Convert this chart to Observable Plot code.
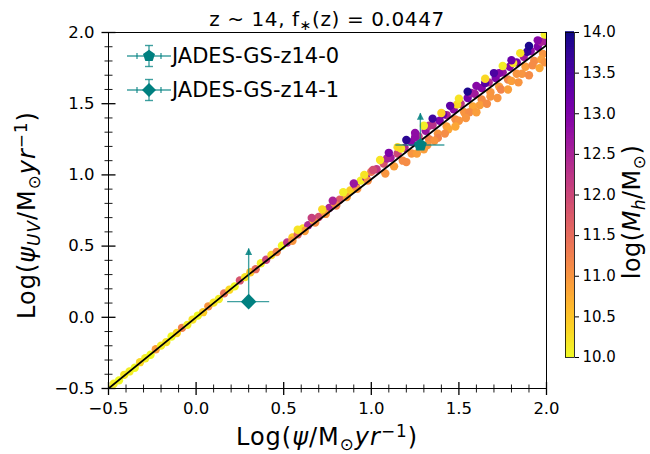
<!DOCTYPE html>
<html>
<head>
<meta charset="utf-8">
<script src="https://cdn.jsdelivr.net/npm/d3@7"></script>
<script src="https://cdn.jsdelivr.net/npm/@observablehq/plot@0.6"></script>
<style>
  body { margin: 0; background: #fff; }
  #wrap { position: relative; width: 650px; height: 454px; overflow: hidden; background: #fff;
          font-family: "DejaVu Sans", sans-serif; color: #000; }
  #wrap svg { position: absolute; left: 0; top: 0; }
  .lbl { position: absolute; white-space: nowrap; line-height: 1; }
  .sub { font-size: 70%; position: relative; top: 0.3em; }
  .sup { font-size: 70%; position: relative; top: -0.5em; }
  i { font-style: italic; }
</style>
</head>
<body>
<div id="wrap"></div>
<script>
// ---------- data ----------
// low-mass band (x = log SFR, y = log SFR_UV, colour = log Mh)
const bandX = [-0.50,-0.47,-0.44,-0.41,-0.38,-0.35,-0.32,-0.29,-0.26,-0.23,-0.20,-0.17,-0.14,-0.11,-0.08,-0.05,-0.02,0.01,0.04,0.07,0.10,0.13,0.16,0.19,0.22,0.25,0.28,0.31,0.34,0.37,0.40,0.43,0.46,0.49,0.52,0.55,0.58,0.61,0.64,0.67,0.70,0.73,0.76,0.79,0.82,0.85,0.88,0.91,0.94,0.97,1.00,
  0.55,0.62,0.68,0.74,0.80,0.86,0.92,0.98,
  0.58,0.66,0.72,0.78,0.84,0.90,0.96];
const bandY = [-0.505,-0.466,-0.443,-0.404,-0.380,-0.354,-0.315,-0.288,-0.263,-0.224,-0.199,-0.174,-0.135,-0.110,-0.074,-0.053,-0.016,0.012,0.036,0.077,0.103,0.128,0.168,0.194,0.217,0.259,0.282,0.316,0.338,0.380,0.404,0.438,0.459,0.502,0.525,0.560,0.582,0.624,0.646,0.682,0.704,0.746,0.768,0.804,0.826,0.868,0.890,0.926,0.960,0.982,1.022,
  0.538,0.606,0.666,0.726,0.785,0.844,0.902,0.960,
  0.615,0.698,0.758,0.818,0.878,0.940,1.000];
const bandMh = [10.0,10.1,10.0,10.2,10.1,10.0,10.3,10.1,10.0,10.9,10.1,10.2,10.0,10.3,11.2,10.1,10.2,10.0,10.4,11.0,10.2,10.1,11.4,10.3,10.0,11.8,10.2,10.5,11.5,10.1,12.0,10.3,11.2,10.0,12.2,10.4,11.6,10.2,12.4,10.1,11.9,10.3,12.5,10.2,11.7,12.6,10.4,12.3,10.1,12.8,11.4,
  11.0,10.9,11.1,11.0,11.2,10.9,11.0,11.1,
  10.2,12.1,10.3,12.5,10.1,12.7,10.2];

// upper branch at high SFR
const upperX = [1.03,1.07,1.11,1.15,1.19,1.23,1.27,1.31,1.35,1.39,1.43,1.47,1.51,1.55,1.59,1.63,1.67,1.71,1.75,1.79,1.83,1.87,1.91,1.95,1.99,
  1.01,1.09,1.17,1.25,1.33,1.41,1.49,1.57,1.65,1.73,1.81,1.89,1.97,
  1.05,1.10,1.15,1.20,1.25,1.30,1.35,1.40,1.45,1.50,1.55,1.60,1.65,1.70,1.75,1.80,1.85,1.90,1.95,1.99];
const upperY = [1.04,1.08,1.12,1.15,1.19,1.23,1.27,1.31,1.35,1.38,1.42,1.46,1.50,1.54,1.57,1.61,1.65,1.68,1.72,1.76,1.79,1.83,1.87,1.90,1.94,
  1.035,1.115,1.185,1.265,1.345,1.425,1.495,1.575,1.645,1.715,1.785,1.865,1.935,
  1.105,1.155,1.195,1.245,1.295,1.345,1.395,1.435,1.485,1.535,1.585,1.625,1.675,1.715,1.765,1.805,1.855,1.905,1.945,1.985];
const upperMh = [12.2,11.8,12.6,12.0,12.4,12.9,12.1,12.7,12.3,13.0,12.5,12.8,12.2,13.1,12.6,12.9,12.4,13.0,12.7,12.9,13.1,12.6,12.8,13.0,12.7,
  11.9,12.5,10.2,12.8,12.3,13.2,10.3,12.6,13.4,12.9,10.2,13.7,12.5,
  10.2,13.0,10.3,13.8,12.8,10.1,13.6,10.4,13.3,10.2,13.9,12.9,10.3,13.5,10.1,13.2,10.2,13.9,12.9,10.1];

// lower (orange) branch at high SFR
const lowerX = [1.08,1.13,1.18,1.23,1.28,1.33,1.38,1.43,1.48,1.53,1.58,1.63,1.68,1.73,1.78,1.83,1.88,1.93,1.98,
  1.20,1.26,1.32,1.38,1.44,1.50,1.56,1.62,1.68,1.74,1.80,1.86,1.92,1.97,
  1.30,1.36,1.42,1.48,1.54,1.60,1.66,1.72,1.78,1.84,1.90,1.96,1.99];
const lowerY = [1.01,1.06,1.10,1.15,1.20,1.25,1.29,1.34,1.39,1.44,1.48,1.53,1.58,1.62,1.67,1.71,1.76,1.80,1.85,
  1.09,1.15,1.21,1.26,1.32,1.38,1.44,1.49,1.55,1.60,1.66,1.71,1.77,1.81,
  1.18,1.24,1.29,1.34,1.40,1.44,1.50,1.54,1.60,1.65,1.70,1.75,1.79];
const lowerMh = [11.0,10.9,11.1,11.0,10.8,11.2,11.0,10.9,11.1,11.0,10.8,11.1,11.0,10.9,11.2,11.0,10.9,11.1,11.0,
  11.1,10.9,11.0,11.2,10.8,11.0,11.1,10.9,11.0,11.2,10.9,11.0,11.1,10.9,
  10.9,11.0,11.1,10.8,11.0,10.9,11.1,11.0,10.9,11.0,11.1,10.8,11.0];

// black relation line
const relX = [-0.5, 0.3, 1.0, 1.5, 2.0];
const relY = [-0.5, 0.3, 0.97, 1.45, 1.91];

// observations
const obsName = ["JADES-GS-z14-0", "JADES-GS-z14-1"];
const obsX = [1.28, 0.30];
const obsY = [1.21, 0.11];
const obsXerr = [0.14, 0.12];
const obsYlim = [0.22, 0.37];

// ticks
const majorTicks = [-0.5, 0.0, 0.5, 1.0, 1.5, 2.0];
const minorTicks = [-0.4,-0.3,-0.2,-0.1,0.1,0.2,0.3,0.4,0.6,0.7,0.8,0.9,1.1,1.2,1.3,1.4,1.6,1.7,1.8,1.9];
const cbTicks = [10.0, 10.5, 11.0, 11.5, 12.0, 12.5, 13.0, 13.5, 14.0];

const titleText = "z ~ 14, f";

// ---------- build tables ----------
const zipPts = (xs, ys, ms) => xs.map((x, i) => ({x, y: ys[i], mh: ms[i]}));
const scatter = [
  ...zipPts(lowerX, lowerY, lowerMh),
  ...zipPts(bandX, bandY, bandMh),
  ...zipPts(upperX, upperY, upperMh)
];
const rel = relX.map((x, i) => ({x, y: relY[i]}));
const obs = obsName.map((name, i) => ({name, x: obsX[i], y: obsY[i], xe: obsXerr[i], yl: obsYlim[i]}));

const teal = "#008080";
const fmt = d => d.toFixed(1).replace("-", "\u2212");

// custom symbols
const vMajor = {draw(c) { c.moveTo(0, -6.5); c.lineTo(0, 6.5); }};
const vMinor = {draw(c) { c.moveTo(0, -4); c.lineTo(0, 4); }};
const hMajor = {draw(c) { c.moveTo(-7, 0); c.lineTo(7, 0); }};
const hMinor = {draw(c) { c.moveTo(-4, 0); c.lineTo(4, 0); }};
const pentagon = {draw(c, size) {
  const r = Math.sqrt(size / Math.PI);
  for (let i = 0; i < 5; i++) {
    const a = -Math.PI / 2 + i * 2 * Math.PI / 5;
    const px = r * Math.cos(a), py = r * Math.sin(a);
    i ? c.lineTo(px, py) : c.moveTo(px, py);
  }
  c.closePath();
}};
const diamond = {draw(c, size) {
  const r = Math.sqrt(size / Math.PI);
  c.moveTo(0, -r); c.lineTo(r, 0); c.lineTo(0, r); c.lineTo(-r, 0); c.closePath();
}};
const caret = {draw(c) { c.moveTo(0, -1); c.lineTo(3.5, 6); c.lineTo(-3.5, 6); c.closePath(); }};

const colorOpts = {type: "linear", domain: [10, 14], scheme: "plasma", reverse: true};

const main = Plot.plot({
  width: 650, height: 454,
  marginLeft: 108, marginRight: 104, marginTop: 32, marginBottom: 66,
  style: {fontFamily: "DejaVu Sans", background: "transparent", color: "black", overflow: "visible"},
  x: {domain: [-0.5, 2.0], axis: null},
  y: {domain: [-0.5, 2.0], axis: null},
  color: colorOpts,
  marks: [
    Plot.dot(scatter, {x: "x", y: "y", fill: "mh", r: 4.2, clip: true}),
    Plot.line(rel, {x: "x", y: "y", stroke: "black", strokeWidth: 1.8, clip: true}),
    // error bars
    Plot.ruleY(obs, {y: "y", x1: d => d.x - d.xe, x2: d => d.x + d.xe, stroke: teal, strokeOpacity: 0.75, strokeWidth: 1.4}),
    Plot.ruleX(obs, {x: "x", y1: "y", y2: d => d.y + d.yl, stroke: teal, strokeOpacity: 0.75, strokeWidth: 1.4}),
    Plot.dot(obs, {x: "x", y: d => d.y + d.yl, symbol: caret, fill: teal, fillOpacity: 0.85, stroke: "none"}),
    Plot.dot(obs.filter(d => d.name === obsName[0]), {x: "x", y: "y", symbol: pentagon, r: 6.8, fill: teal, stroke: "none"}),
    Plot.dot(obs.filter(d => d.name === obsName[1]), {x: "x", y: "y", symbol: diamond, r: 7.8, fill: teal, stroke: "none"}),
    Plot.frame({stroke: "black", strokeWidth: 1}),
    // ticks (in-out)
    Plot.dot(majorTicks, {x: d => d, y: -0.5, symbol: vMajor, fill: "none", stroke: "black", strokeWidth: 1.3}),
    Plot.dot(minorTicks, {x: d => d, y: -0.5, symbol: vMinor, fill: "none", stroke: "black", strokeWidth: 0.9}),
    Plot.dot(majorTicks, {x: -0.5, y: d => d, symbol: hMajor, fill: "none", stroke: "black", strokeWidth: 1.3}),
    Plot.dot(minorTicks, {x: -0.5, y: d => d, symbol: hMinor, fill: "none", stroke: "black", strokeWidth: 0.9}),
    Plot.axisX(majorTicks, {tickSize: 0, tickPadding: 14, tickFormat: fmt, fontSize: 16.5, label: null}),
    Plot.axisY(majorTicks, {tickSize: 0, tickPadding: 14, tickFormat: fmt, fontSize: 16.5, label: null})
  ]
});

// colorbar
const cbSteps = d3.range(10, 14, 0.02);
const cbar = Plot.plot({
  width: 650, height: 454,
  marginLeft: 565, marginRight: 76, marginTop: 32, marginBottom: 97,
  style: {fontFamily: "DejaVu Sans", background: "transparent", color: "black", overflow: "visible"},
  x: {domain: [0, 1], axis: null},
  y: {domain: [10, 14], axis: null},
  color: colorOpts,
  marks: [
    Plot.rect(cbSteps, {x1: 0, x2: 1, y1: d => d, y2: d => d + 0.03, fill: d => d + 0.01}),
    Plot.frame({stroke: "black", strokeWidth: 0.8}),
    Plot.axisY(cbTicks, {anchor: "right", tickSize: 4, tickPadding: 4, tickFormat: d => d.toFixed(1), fontSize: 15, label: null})
  ]
});

const wrap = document.getElementById("wrap");
wrap.appendChild(main);
wrap.appendChild(cbar);

function addLabel(html, cx, cy, size, rotate, spacing) {
  const d = document.createElement("div");
  d.className = "lbl";
  d.innerHTML = html;
  d.style.fontSize = size + "px";
  d.style.left = cx + "px";
  d.style.top = cy + "px";
  if (spacing) d.style.letterSpacing = spacing + "px";
  d.style.transform = "translate(-50%, -50%)" + (rotate ? " rotate(-90deg)" : "");
  wrap.appendChild(d);
  return d;
}

addLabel(titleText + '<span class="sub">\u2217</span>(z) = 0.0447', 327, 19, 20, false, 0.6);
addLabel('Log(<i>\u03c8</i>/M<span class="sub">\u2299</span><i>yr</i><span class="sup">\u22121</span>)', 327, 437, 24, false, 1);
addLabel('Log(<i>\u03c8</i><span class="sub"><i>UV</i></span>/M<span class="sub">\u2299</span><i>yr</i><span class="sup">\u22121</span>)', 27, 215, 24, true, 1);
addLabel('log(<i>M</i><span class="sub"><i>h</i></span>/M<span class="sub">\u2299</span>)', 632, 212, 24, true, 0.5);

// legend
const legendRows = [56, 90];
obsName.forEach((name, i) => {
  const cy = legendRows[i];
  const svg = d3.create("svg").attr("width", 50).attr("height", 30)
    .style("left", (149 - 25) + "px").style("top", (cy - 15) + "px");
  const g = svg.append("g").attr("transform", "translate(25,15)");
  const ls = {stroke: teal, "stroke-opacity": 0.75, "stroke-width": 1.4};
  const line = (x1, y1, x2, y2) => { const l = g.append("line").attr("x1", x1).attr("y1", y1).attr("x2", x2).attr("y2", y2); Object.entries(ls).forEach(([k, v]) => l.attr(k, v)); };
  line(-22, 0, 22, 0);
  line(-12, -3, -12, 3);
  line(12, -3, 12, 3);
  line(0, -10.5, 0, 10.5);
  line(-4, -10.5, 4, -10.5);
  line(-4, 10.5, 4, 10.5);
  const sym = i === 0 ? pentagon : diamond;
  g.append("path").attr("d", d3.symbol(sym, Math.PI * (i === 0 ? 6.3 : 7) ** 2)()).attr("fill", teal);
  wrap.appendChild(svg.node());
  const t = document.createElement("div");
  t.className = "lbl";
  t.textContent = name;
  t.style.fontSize = "21px";
  t.style.left = "172px";
  t.style.top = cy + "px";
  t.style.transform = "translate(0, -50%)";
  wrap.appendChild(t);
});
</script>
</body>
</html>
